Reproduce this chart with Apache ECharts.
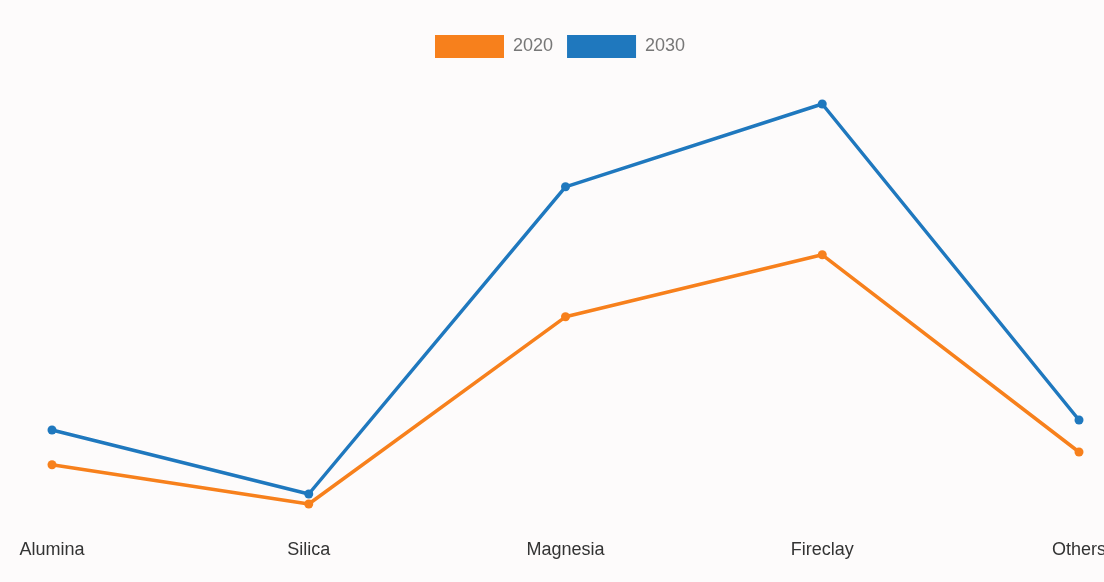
<!DOCTYPE html>
<html>
<head>
<meta charset="utf-8">
<script src="https://cdn.jsdelivr.net/npm/echarts@6/dist/echarts.min.js"></script>
<style>html,body{margin:0;padding:0;background:#fdfbfb;}#c{width:1104px;height:582px;}</style>
</head>
<body>
<div id="c"></div>
<script>
const categories = ['Alumina', 'Silica', 'Magnesia', 'Fireclay', 'Others'];
const series2020 = [14.8, 5, 51.8, 67.3, 18];
const series2030 = [23.5, 7.5, 84.3, 105, 26];

const chart = echarts.init(document.getElementById('c'));
chart.setOption({
  backgroundColor: '#fdfbfb',
  animation: false,
  legend: {
    top: 35,
    left: 435,
    padding: 0,
    icon: 'rect',
    itemWidth: 69,
    itemHeight: 23,
    itemGap: 14,
    textStyle: { color: '#777', fontSize: 18, padding: [0, 0, 0, 4], fontFamily: 'Liberation Sans, Arial, sans-serif' },
    data: ['2020', '2030']
  },
  grid: { left: 52, right: 25, top: 44, bottom: 58, outerBoundsMode: 'none', containLabel: false },
  xAxis: {
    type: 'category',
    data: categories,
    boundaryGap: false,
    axisLine: { show: false },
    axisTick: { show: false },
    axisLabel: { color: '#333', fontSize: 18, margin: 17, fontFamily: 'Liberation Sans, Arial, sans-serif' }
  },
  yAxis: {
    type: 'value',
    min: 0, max: 120,
    show: false,
    splitLine: { show: false }
  },
  series: [
    {
      name: '2020', type: 'line', data: series2020,
      symbol: 'circle', symbolSize: 9,
      lineStyle: { width: 3.5, color: '#f7801c' },
      itemStyle: { color: '#f7801c' }
    },
    {
      name: '2030', type: 'line', data: series2030,
      symbol: 'circle', symbolSize: 9,
      lineStyle: { width: 3.5, color: '#1f78be' },
      itemStyle: { color: '#1f78be' }
    }
  ]
});
</script>
</body>
</html>
